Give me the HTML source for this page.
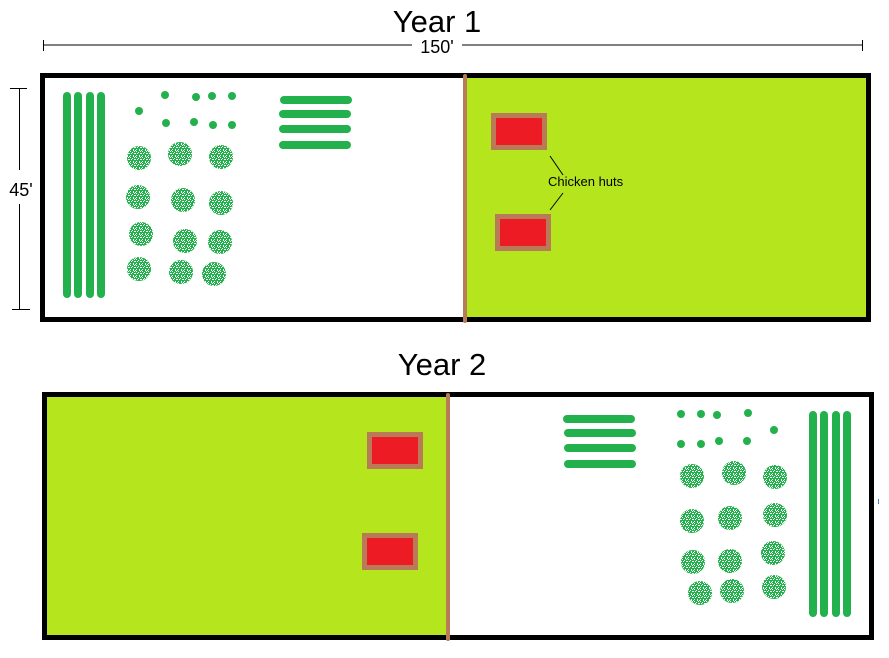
<!DOCTYPE html>
<html><head><meta charset="utf-8"><style>
html,body{margin:0;padding:0;background:#fff;width:889px;height:658px;overflow:hidden}
</style></head><body>
<svg width="889" height="658" viewBox="0 0 889 658" xmlns="http://www.w3.org/2000/svg" font-family="Liberation Sans, DejaVu Sans, sans-serif">
<defs>
<pattern id="sp" width="6" height="6" patternUnits="userSpaceOnUse">
<rect width="6" height="6" fill="#22b14c"/>
<rect x="1" y="0" width="1" height="1" fill="#fff"/>
<rect x="4" y="1" width="1" height="1" fill="#fff"/>
<rect x="0" y="2" width="1" height="1" fill="#fff"/>
<rect x="2" y="3" width="2" height="1" fill="#fff"/>
<rect x="5" y="3" width="1" height="1" fill="#fff"/>
<rect x="1" y="5" width="1" height="1" fill="#fff"/>
<rect x="4" y="5" width="1" height="1" fill="#fff"/>
<rect x="3" y="0" width="1" height="1" fill="#fff"/>
<rect x="2" y="1" width="1" height="1" fill="#fff"/>
</pattern>
</defs>

<!-- Year 1 -->
<text x="437" y="32" font-size="31" text-anchor="middle" fill="#000">Year 1</text>
<line x1="43" y1="45" x2="412" y2="45" stroke="#000" stroke-width="1"/>
<line x1="462" y1="45" x2="862" y2="45" stroke="#000" stroke-width="1"/>
<line x1="43.5" y1="40" x2="43.5" y2="51" stroke="#000"/>
<line x1="862.5" y1="40" x2="862.5" y2="51" stroke="#000"/>
<text x="437" y="53" font-size="18" text-anchor="middle">150'</text>
<line x1="19.5" y1="88" x2="19.5" y2="170" stroke="#000"/>
<line x1="19.5" y1="204" x2="19.5" y2="309" stroke="#000"/>
<line x1="10" y1="88.5" x2="27" y2="88.5" stroke="#000"/>
<line x1="12" y1="309.5" x2="30" y2="309.5" stroke="#000"/>
<text x="21" y="196" font-size="18" text-anchor="middle">45'</text>

<rect x="42.5" y="75.5" width="826" height="244" fill="#fff" stroke="#000" stroke-width="5"/>
<rect x="467" y="78" width="399" height="239" fill="#b5e61d"/>
<line x1="465" y1="76" x2="465" y2="321" stroke="#b97a57" stroke-width="4" stroke-linecap="round"/>

<g stroke="#22b14c" stroke-width="8" stroke-linecap="round">
<line x1="67" y1="96" x2="67" y2="294"/><line x1="78" y1="96" x2="78" y2="294"/>
<line x1="90" y1="96" x2="90" y2="294"/><line x1="101" y1="96" x2="101" y2="294"/>
<line x1="284" y1="100" x2="348" y2="100"/><line x1="283" y1="114" x2="347" y2="114"/>
<line x1="283" y1="129" x2="347" y2="129"/><line x1="283" y1="145" x2="347" y2="145"/>
</g>
<g fill="#22b14c">
<circle cx="139" cy="111" r="4"/><circle cx="165" cy="95" r="4"/><circle cx="196" cy="97" r="4"/><circle cx="212" cy="96" r="4"/><circle cx="232" cy="96" r="4"/>
<circle cx="166" cy="123" r="4"/><circle cx="194" cy="122" r="4"/><circle cx="213" cy="125" r="4"/><circle cx="232" cy="125" r="4"/>
</g>
<g fill="url(#sp)">
<circle cx="139" cy="158" r="12"/><circle cx="180" cy="154" r="12"/><circle cx="221" cy="157" r="12"/>
<circle cx="138" cy="197" r="12"/><circle cx="183" cy="200" r="12"/><circle cx="221" cy="203" r="12"/>
<circle cx="141" cy="234" r="12"/><circle cx="185" cy="241" r="12"/><circle cx="220" cy="242" r="12"/>
<circle cx="139" cy="269" r="12"/><circle cx="181" cy="272" r="12"/><circle cx="214" cy="274" r="12"/>
</g>
<rect x="491" y="113" width="56" height="37" fill="#b97a57"/><rect x="496" y="118" width="46" height="27" fill="#ed1c24"/>
<rect x="495" y="214" width="56" height="37" fill="#b97a57"/><rect x="500" y="219" width="46" height="27" fill="#ed1c24"/>
<line x1="550" y1="156" x2="563" y2="175" stroke="#000"/>
<line x1="563" y1="193" x2="550" y2="210" stroke="#000"/>
<text x="548" y="186" font-size="13" fill="#000">Chicken huts</text>

<!-- Year 2 -->
<text x="442" y="375" font-size="31" text-anchor="middle" fill="#000">Year 2</text>
<rect x="44.5" y="394.5" width="827" height="243" fill="#fff" stroke="#000" stroke-width="5"/>
<rect x="47" y="397" width="401" height="238" fill="#b5e61d"/>
<line x1="448" y1="395" x2="448" y2="639" stroke="#b97a57" stroke-width="4" stroke-linecap="round"/>
<rect x="367" y="432" width="56" height="37" fill="#b97a57"/><rect x="372" y="437" width="46" height="27" fill="#ed1c24"/>
<rect x="362" y="533" width="56" height="37" fill="#b97a57"/><rect x="367" y="538" width="46" height="27" fill="#ed1c24"/>
<g stroke="#22b14c" stroke-width="8" stroke-linecap="round">
<line x1="813" y1="415" x2="813" y2="613"/><line x1="824" y1="415" x2="824" y2="613"/>
<line x1="836" y1="415" x2="836" y2="613"/><line x1="847" y1="415" x2="847" y2="613"/>
<line x1="567" y1="419" x2="631" y2="419"/><line x1="568" y1="433" x2="632" y2="433"/>
<line x1="568" y1="448" x2="632" y2="448"/><line x1="568" y1="464" x2="632" y2="464"/>
</g>
<g fill="#22b14c">
<circle cx="681" cy="414" r="4"/><circle cx="701" cy="414" r="4"/><circle cx="717" cy="415" r="4"/><circle cx="748" cy="413" r="4"/><circle cx="774" cy="430" r="4"/>
<circle cx="681" cy="444" r="4"/><circle cx="701" cy="444" r="4"/><circle cx="719" cy="441" r="4"/><circle cx="747" cy="441" r="4"/>
</g>
<g fill="url(#sp)">
<circle cx="692" cy="476" r="12"/><circle cx="734" cy="473" r="12"/><circle cx="775" cy="477" r="12"/>
<circle cx="692" cy="521" r="12"/><circle cx="730" cy="518" r="12"/><circle cx="775" cy="515" r="12"/>
<circle cx="693" cy="562" r="12"/><circle cx="730" cy="561" r="12"/><circle cx="773" cy="553" r="12"/>
<circle cx="700" cy="593" r="12"/><circle cx="732" cy="591" r="12"/><circle cx="774" cy="587" r="12"/>
</g>
<rect x="878" y="499" width="1" height="5" fill="#3f7fd0"/>
</svg>
</body></html>
